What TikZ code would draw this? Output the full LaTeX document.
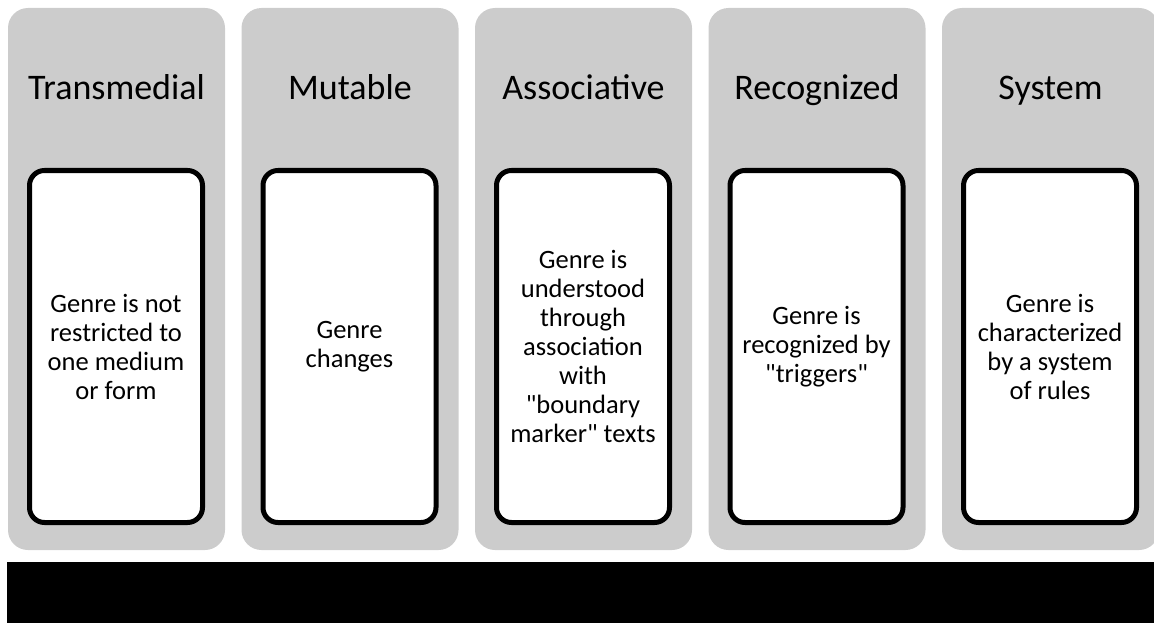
\documentclass[tikz,border=0pt]{standalone}
\usepackage{fontspec}
\setmainfont{Carlito}
\definecolor{panelgray}{HTML}{CCCCCC}
\tikzset{
  panel/.style={fill=panelgray, rounded corners=20pt, minimum width=217pt, minimum height=542pt, inner sep=0pt},
  card/.style={draw=black, fill=white, line width=5pt, rounded corners=15pt, minimum width=173pt,
    minimum height=352pt, align=center, inner sep=0pt, font=\fontsize{26.5}{29}\selectfont},
  heading/.style={anchor=base, inner sep=0pt, font=\fontsize{36}{43}\selectfont},
}
\begin{document}
\begin{tikzpicture}[x=1pt,y=-1pt]
\useasboundingbox (0,0) rectangle (1154,623);

% five grey columns, each with a white card
\foreach \i/\head/\body in {
    0/Transmedial/{Genre is not\\restricted to\\one medium\\or form},
    1/Mutable/{Genre\\changes},
    2/Associative/{Genre is\\understood\\through\\association\\with\\\textquotedbl boundary\\marker\textquotedbl{} texts},
    3/Recognized/{Genre is\\recognized by\\\textquotedbl triggers\textquotedbl},
    4/System/{Genre is\\characterized\\by a system\\of rules}} {
  \node[panel] (panel\i) at (116.5+233.5*\i, 279) {};
  \node[heading] (head\i) at (116.5+233.5*\i, 100) {\head};
  \node[card] (card\i) at (116+233.5*\i, 346.5) {\body};
}

% black bar at the bottom
\fill[black] (7,562) rectangle (1154,623);
\end{tikzpicture}
\end{document}
